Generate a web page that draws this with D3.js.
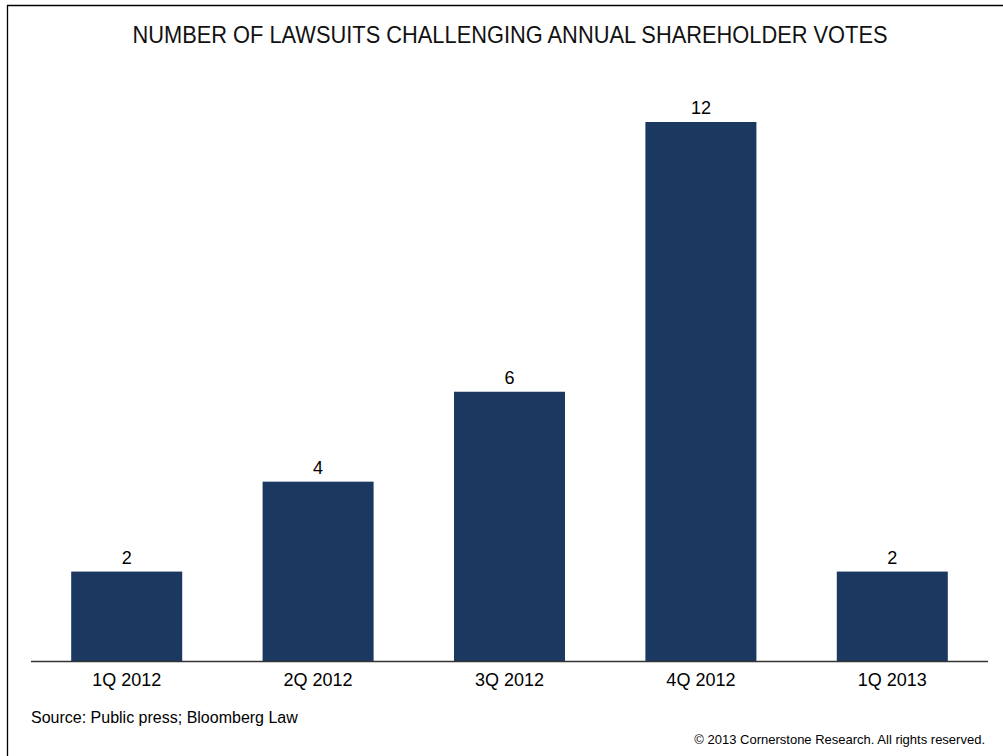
<!DOCTYPE html>
<html><head><meta charset="utf-8">
<script src="https://cdn.jsdelivr.net/npm/d3@7"></script>
<style>html,body{margin:0;padding:0;background:#fff;}svg{display:block;}</style>
</head><body>
<script>
const categories = ["1Q 2012","2Q 2012","3Q 2012","4Q 2012","1Q 2013"];
const values = [2,4,6,12,2];
const titleText = "NUMBER OF LAWSUITS CHALLENGING ANNUAL SHAREHOLDER VOTES";
const sourceText = "Source: Public press; Bloomberg Law";
const copyrightText = "\u00A9 2013 Cornerstone Research. All rights reserved.";

const W = 1003, H = 756;
const font = "'Liberation Sans', Arial, sans-serif";
const svg = d3.select("body").append("svg").attr("width", W).attr("height", H);

// frame (top & left)
svg.append("line").attr("x1",7).attr("x2",W).attr("y1",5.5).attr("y2",5.5).attr("stroke","#000").attr("stroke-width",1.3);
svg.append("line").attr("x1",7.5).attr("x2",7.5).attr("y1",5).attr("y2",H).attr("stroke","#000").attr("stroke-width",1.3);

svg.append("text").attr("x",510).attr("y",42.5).attr("text-anchor","middle")
  .attr("font-family",font).attr("font-size",24).attr("fill","#111")
  .attr("textLength",755).attr("lengthAdjust","spacingAndGlyphs").text(titleText);

const x = d3.scaleBand().domain(categories).range([31,988]).paddingInner(0.42).paddingOuter(0.21);
const y = d3.scaleLinear().domain([0,12]).range([661.5,122]);

const g = svg.append("g");
g.selectAll("rect.bar").data(values).join("rect").attr("class","bar")
  .attr("x",(d,i)=>x(categories[i])).attr("width",x.bandwidth())
  .attr("y",d=>y(d)).attr("height",d=>y(0)-y(d)).attr("fill","#1B3861");

g.selectAll("text.val").data(values).join("text").attr("class","val")
  .attr("x",(d,i)=>x(categories[i])+x.bandwidth()/2).attr("y",d=>y(d)-8)
  .attr("text-anchor","middle").attr("font-family",font).attr("font-size",18).attr("fill","#000")
  .text(d=>d);

const axis = svg.append("g").attr("transform",`translate(0,${y(0)})`)
  .call(d3.axisBottom(x).tickSize(0).tickPadding(0).tickSizeOuter(0));
axis.select(".domain").attr("stroke","#333").attr("stroke-width",1.5).attr("d","M31,0H988");
axis.selectAll(".tick text").attr("font-family",font).attr("font-size",18).attr("fill","#000")
  .attr("dy",null).attr("y",24.5);

svg.append("text").attr("x",31).attr("y",723).attr("font-family",font).attr("font-size",16).attr("fill","#000").text(sourceText);
svg.append("text").attr("x",985).attr("y",744).attr("text-anchor","end").attr("font-family",font).attr("font-size",13).attr("fill","#000").text(copyrightText);
</script>
</body></html>
